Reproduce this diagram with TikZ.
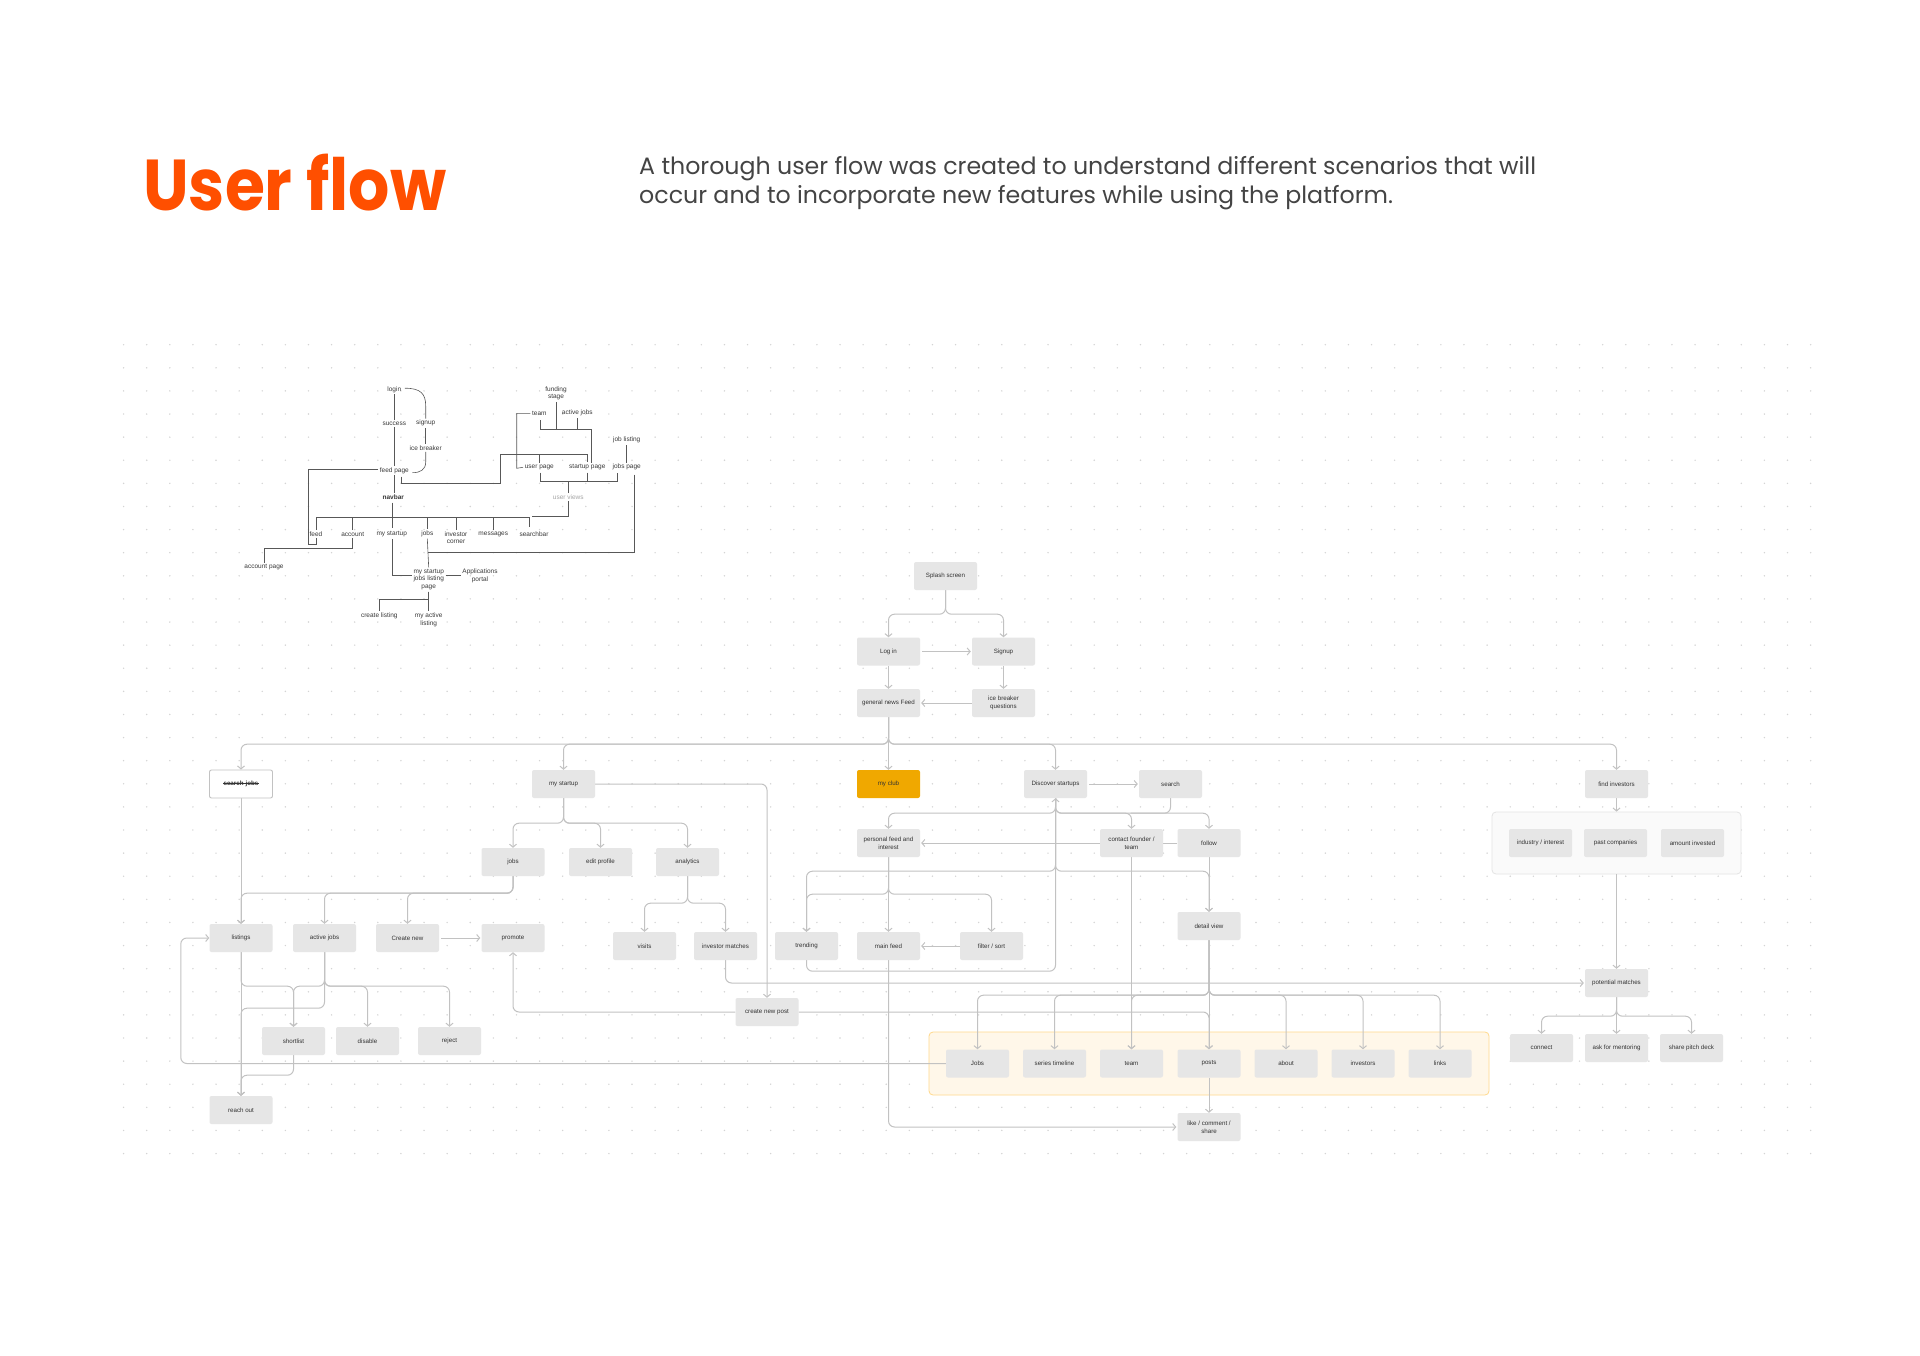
\documentclass[tikz,border=0pt]{standalone}
\usepackage{fontspec}
\setmainfont{Liberation Sans}
\newfontfamily\pop{Poppins}
\usetikzlibrary{arrows.meta,calc}
\definecolor{boxgray}{HTML}{E6E6E6}
\definecolor{linegray}{HTML}{C2C2C2}
\definecolor{txt}{HTML}{333333}
\definecolor{titleorange}{HTML}{FF4F00}
\definecolor{clubfill}{HTML}{F0A800}
\definecolor{dotgray}{HTML}{D4D4D4}
\definecolor{framefill}{HTML}{FFF7E9}
\definecolor{frameline}{HTML}{FFD98C}
\definecolor{gframefill}{HTML}{FAFAFA}
\definecolor{gframeline}{HTML}{E4E4E4}
\definecolor{sketchc}{HTML}{3A3A3A}
\definecolor{desc}{HTML}{444444}
\pgfdeclarelayer{back}
\pgfdeclarelayer{mid}
\pgfsetlayers{back,mid,main}
\begin{document}
\begin{tikzpicture}[x=1pt,y=-1pt,
  fbox/.style={rectangle, rounded corners=2pt, fill=boxgray, minimum width=63pt, minimum height=28pt, inner sep=1pt, align=center, font=\fontsize{6.2}{7.8}\selectfont, text=txt},
  flow/.style={draw=linegray, line width=1pt, rounded corners=6pt},
  arr/.style={flow, -{Straight Barb[length=3pt,width=7pt]}},
  sk/.style={font=\fontsize{6.5}{7.7}\selectfont, text=sketchc, align=center, inner sep=1.5pt},
  skl/.style={draw=sketchc!85, line width=0.6pt},
]
\useasboundingbox (0,0) rectangle (1920,1356);
\begin{pgfonlayer}{back}
\fill[white] (0,0) rectangle (1920,1356);
\foreach \i in {0,...,73}{\foreach \j in {0,...,35}{\fill[dotgray] (123.6+\i*23.11, 344.7+\j*23.11) circle (0.8pt);}}
\node[rectangle, rounded corners=4pt, fill=framefill, draw=frameline, line width=0.8pt, minimum width=560pt, minimum height=63pt] (oframe) at (1209,1063.5) {};
\node[rectangle, rounded corners=4pt, fill=gframefill, draw=gframeline, line width=0.8pt, minimum width=249pt, minimum height=62pt] (gframe) at (1616.5,843) {};
\end{pgfonlayer}

% header
\node[anchor=base west, inner sep=0, font=\pop\bfseries\fontsize{72}{78}\selectfont, text=titleorange] (title) at (143,210.6) {\scalebox{0.9}[1]{User flow}};
\node[anchor=base west, inner sep=0, font=\pop\fontsize{23.7}{28}\selectfont, text=desc] (desc1) at (639,175) {A thorough user flow was created to understand different scenarios that will};
\node[anchor=base west, inner sep=0, font=\pop\fontsize{23.7}{28}\selectfont, text=desc] (desc2) at (639,203.5) {occur and to incorporate new features while using the platform.};

% ---------- sketch ----------
\node[sk] (s_login) at (394.3,389.7) {login};
\node[sk] (s_success) at (394.3,423.3) {success};
\node[sk] (s_signup) at (425.7,423.3) {signup};
\node[sk] (s_ice) at (425.7,447.7) {ice breaker};
\node[sk] (s_feedpage) at (394.3,470.7) {feed page};
\node[sk, font=\fontsize{6.5}{7.7}\selectfont\bfseries] (s_navbar) at (393.3,497.3) {navbar};
\node[sk] (s_funding) at (556,393.3) {funding\\stage};
\node[sk] (s_team) at (539.3,413.3) {team};
\node[sk] (s_activejobs) at (577.3,413.3) {active jobs};
\node[sk] (s_joblisting) at (626.7,440.3) {job listing};
\node[sk] (s_userpage) at (539.3,467.3) {user page};
\node[sk] (s_startuppage) at (587.3,467.3) {startup page};
\node[sk] (s_jobspage) at (626.7,467.3) {jobs page};
\node[sk, text=black!35] (s_userviews) at (568.3,497.3) {user views};
\node[sk] (s_feed) at (316,534) {feed};
\node[sk] (s_account) at (352.7,534) {account};
\node[sk] (s_mystartup) at (391.7,534) {my startup};
\node[sk] (s_jobs) at (427.3,534) {jobs};
\node[sk] (s_investor) at (456,537.8) {investor\\corner};
\node[sk] (s_messages) at (493.3,534) {messages};
\node[sk] (s_searchbar) at (534,534) {searchbar};
\node[sk] (s_accountpage) at (264,567.3) {account page};
\node[sk] (s_msjlp) at (428.7,579.5) {my startup\\jobs listing\\page};
\node[sk] (s_apps) at (480,575.5) {Applications\\portal};
\node[sk] (s_create) at (379.3,615.7) {create listing};
\node[sk] (s_myactive) at (428.7,619.5) {my active\\listing};

\draw[skl] (s_login) -- (s_success);
\draw[skl] (s_success) -- (s_feedpage);
\draw[skl] (s_feedpage.south) -- (s_feedpage.south |- s_navbar.north);
\draw[skl] ($(s_login.east)+(2,-1.5)$) .. controls (421,388.2) and (425.7,394) .. (425.7,406) -- (s_signup.north);
\draw[skl] (s_signup) -- (s_ice);
\draw[skl] (s_ice.south) -- (425.7,462) .. controls (425.7,470) and (420,472.7) .. ($(s_feedpage.east)+(2,2)$);
\draw[skl] ($(s_feedpage.west)+(0,-1.4)$) -| (308.3,544.3) -| (s_feed.south);
% navbar bar
\coordinate (nbar) at (316.7,517.3);
\draw[skl] (s_feed.north -| nbar) -- (nbar) -- (529,517.3) -- (529,527);
\foreach \n in {s_account,s_jobs,s_investor,s_messages}{\draw[skl] (\n.north |- nbar) -- (\n.north);}
\draw[skl] (392.3,502.7) -- (392.3,528.3);
\draw[skl] (s_account.south) -- ++(0,10) -| (s_accountpage.north);
\draw[skl] (392.3,539.3) |- ($(s_msjlp.west)+(0,-4.5)$);
\draw[skl] (s_jobs.south) -- (s_msjlp.north);
\draw[skl] (634,474.5) |- (427.7,552.3);
\draw[skl] (s_msjlp.east |- s_apps.west) -- (s_apps.west);
\draw[skl] (s_msjlp.south) -- ++(0,8) -| (s_create.north);
\draw[skl] (s_msjlp.south) -- (s_myactive.north);
\draw[skl] (s_userviews.south) |- (531.7,516.7);
\draw[skl] (s_userviews.north) -- (568.3,481.7);
\draw[skl] (540.7,472.7) |- (617.7,481.7) -- (617.7,472.7);
\draw[skl] (587.3,472.7) -- (587.3,481.7);
\draw[skl] (401.7,476.5) |- (500,483.3) |- (587.3,454) -- (587.3,462.3);
\draw[skl] (539.3,454) -- (s_userpage.north);
\draw[skl] (s_team.west) -| (516.7,468.3) -- (s_userpage.west);
\draw[skl] (540,420) |- (591.7,429.3) -- (591.7,462.5);
\draw[skl] (s_funding.south) -- (556,429.3);
\draw[skl] (s_activejobs.south) -- (577.3,429.3);
\draw[skl] (s_joblisting) -- (s_jobspage);

% ---------- main flow nodes ----------
\node[fbox] (splash) at (945.5,576) {Splash screen};
\node[fbox] (login) at (888.5,651.5) {Log in};
\node[fbox] (signup) at (1003.5,651.5) {Signup};
\node[fbox] (gnf) at (888.5,703) {general news Feed};
\node[fbox] (ice) at (1003.5,703) {ice breaker\\questions};
\node[fbox, fill=white, draw=linegray, line width=0.9pt, font=\fontsize{6.2}{7.8}\selectfont\bfseries] (searchjobs) at (241,784) {search-jobs};
\draw[txt, line width=0.5pt] ($(searchjobs.center)+(-18,-0.3)$) -- ($(searchjobs.center)+(18,-0.3)$);
\node[fbox] (mystartup) at (563.5,784) {my startup};
\node[fbox, fill=clubfill] (myclub) at (888.5,784) {my club};
\node[fbox] (discover) at (1055.5,784) {Discover startups};
\node[fbox] (search) at (1170.5,784) {search};
\node[fbox] (findinv) at (1616.5,784) {find investors};
\node[fbox] (jobs) at (513,862) {jobs};
\node[fbox] (editprofile) at (600.5,862) {edit profile};
\node[fbox] (analytics) at (687.5,862) {analytics};
\node[fbox] (personal) at (888.5,843) {personal feed and\\interest};
\node[fbox] (contact) at (1131.5,843) {contact founder /\\team};
\node[fbox] (follow) at (1209,843) {follow};
\node[fbox] (industry) at (1540.5,843) {industry / interest};
\node[fbox] (past) at (1615.5,843) {past companies};
\node[fbox] (amount) at (1692.5,843) {amount invested};
\node[fbox] (listings) at (241,938) {listings};
\node[fbox] (activejobs) at (324.5,938) {active jobs};
\node[fbox] (createnew) at (407.5,938) {Create new};
\node[fbox] (promote) at (513,938) {promote};
\node[fbox] (visits) at (644.5,946) {visits};
\node[fbox] (invmatches) at (725.5,946) {investor matches};
\node[fbox] (trending) at (806.5,946) {trending};
\node[fbox] (mainfeed) at (888.5,946) {main feed};
\node[fbox] (filter) at (991.5,946) {filter / sort};
\node[fbox] (detail) at (1209,926) {detail view};
\node[fbox] (potential) at (1616.5,983) {potential matches};
\node[fbox] (createpost) at (767,1012) {create new post};
\node[fbox] (shortlist) at (293.5,1041) {shortlist};
\node[fbox] (disable) at (367.5,1041) {disable};
\node[fbox] (reject) at (449.5,1041) {reject};
\node[fbox] (connect) at (1541.5,1048) {connect};
\node[fbox] (mentoring) at (1616.5,1048) {ask for mentoring};
\node[fbox] (pitch) at (1691.5,1048) {share pitch deck};
\node[fbox] (jobsB) at (977.5,1063.5) {Jobs};
\node[fbox] (series) at (1054.5,1063.5) {series timeline};
\node[fbox] (team) at (1131.5,1063.5) {team};
\node[fbox] (posts) at (1209,1063.5) {posts};
\node[fbox] (about) at (1286,1063.5) {about};
\node[fbox] (investors) at (1363,1063.5) {investors};
\node[fbox] (links) at (1440,1063.5) {links};
\node[fbox] (reachout) at (241,1110) {reach out};
\node[fbox] (like) at (1209,1127) {like / comment /\\share};

% ---------- main flow connectors ----------
\begin{pgfonlayer}{mid}
\draw[arr] (splash.south) -- ++(0,24) -| (login.north);
\draw[arr] (splash.south) -- ++(0,24) -| (signup.north);
\draw[arr] ($(login.east)+(2,0)$) -- ($(signup.west)+(-1,0)$);
\draw[arr] (login.south) -- (gnf.north);
\draw[arr] (signup.south) -- (ice.north);
\draw[arr] (ice.west) -- ($(gnf.east)+(1,0)$);
\draw[arr] (gnf.south) -- ++(0,27) -| (searchjobs.north);
\draw[arr] (gnf.south) -- ++(0,27) -| (mystartup.north);
\draw[arr] (gnf.south) -- (myclub.north);
\draw[arr] (gnf.south) -- ++(0,27) -| (discover.north);
\draw[arr] (gnf.south) -- ++(0,27) -| (findinv.north);
\draw[arr] (searchjobs.south) -- (listings.north);
\draw[arr] (mystartup.south) -- ++(0,25) -| (jobs.north);
\draw[arr] (mystartup.south) -- ++(0,25) -| (editprofile.north);
\draw[arr] (mystartup.south) -- ++(0,25) -| (analytics.north);
\draw[arr] (mystartup.east) -| (createpost.north);
\draw[arr] (jobs.south) -- ++(0,17) -| (listings.north);
\draw[arr] (jobs.south) -- ++(0,17) -| (activejobs.north);
\draw[arr] (jobs.south) -- ++(0,17) -| (createnew.north);
\draw[arr] ($(createnew.east)+(2,0)$) -- ($(promote.west)+(-1,0)$);
\draw[arr] (createpost.west) -| (promote.south);
\draw[arr] (listings.south) -- (reachout.north);
\draw[arr] (listings.south) -- ++(0,34) -| (shortlist.north);
\draw[arr] (activejobs.south) -- ++(0,34) -| (shortlist.north);
\draw[arr] (activejobs.south) -- ++(0,34) -| (disable.north);
\draw[arr] (activejobs.south) -- ++(0,34) -| (reject.north);
\draw[arr] (activejobs.south) -- ++(0,56) -| (reachout.north);
\draw[arr] (shortlist.south) -- ++(0,20) -| (reachout.north);
\draw[arr] (jobsB.west) -- ++(-765,0) |- (listings.west);
\draw[arr] (analytics.south) -- ++(0,27) -| (visits.north);
\draw[arr] (analytics.south) -- ++(0,27) -| (invmatches.north);
\draw[arr] (invmatches.south) |- ($(potential.west)+(-1,0)$);
\draw[arr] (trending.south) -- ++(0,11) -| (discover.south);
\draw[arr] ($(discover.east)+(2,0)$) -- ($(search.west)+(-1,0)$);
\draw[arr] (discover.south) -- ++(0,15) -| (personal.north);
\draw[arr] (discover.south) -- ++(0,15) -| (contact.north);
\draw[arr] (discover.south) -- ++(0,15) -| (follow.north);
\draw[flow] (search.south) -- ++(0,15) -- ++(-40,0);
\draw[arr] (discover.south) -- ++(0,73) -| (trending.north);
\draw[arr] (discover.south) -- ++(0,73) -| (detail.north);
\draw[arr] (personal.south) -- ++(0,37) -| (trending.north);
\draw[arr] (personal.south) -- (mainfeed.north);
\draw[arr] (personal.south) -- ++(0,37) -| (filter.north);
\draw[arr] (contact.west) -- ($(personal.east)+(1,0)$);
\draw[flow] (follow.west) -- (contact.east);
\draw[arr] (follow.south) -- (detail.north);
\draw[arr] (filter.west) -- ($(mainfeed.east)+(1,0)$);
\draw[arr] (mainfeed.south) |- ($(like.west)+(-1,0)$);
\draw[arr] (createpost.east) -| (posts.north);
\draw[arr] (contact.south) -- (team.north);
\foreach \t in {jobsB,series,team,about,investors,links}{\draw[arr] (detail.south) -- ++(0,55) -| (\t.north);}
\draw[arr] (detail.south) -- (posts.north);
\draw[arr] (posts.south) -- (like.north);
\draw[arr] (findinv.south) -- (gframe.north);
\draw[arr] (gframe.south) -- (potential.north);
\draw[arr] (potential.south) -- ++(0,19) -| (connect.north);
\draw[arr] (potential.south) -- (mentoring.north);
\draw[arr] (potential.south) -- ++(0,19) -| (pitch.north);
\end{pgfonlayer}
\end{tikzpicture}
\end{document}
